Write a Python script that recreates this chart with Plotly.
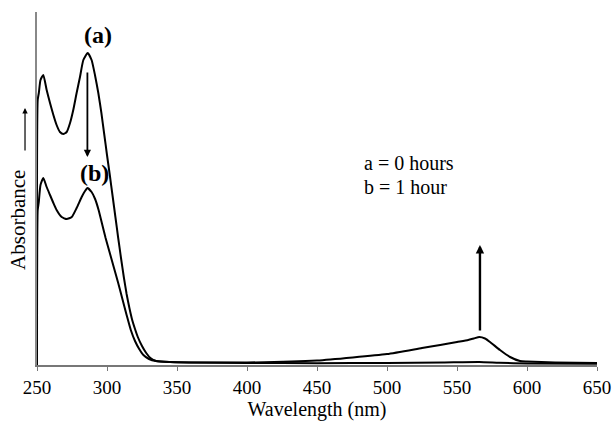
import plotly.graph_objects as go

# UV-Vis absorbance spectra, 250-650 nm
wl_a = [250.0, 250.5, 251.3, 252.5, 254.5, 256.9, 259.3, 261.7, 264.0, 266.4, 268.8,
        271.2, 273.6, 275.9, 278.3, 280.7, 283.1, 286.2, 289.0, 291.4, 293.8, 296.0,
        298.0, 300.0, 302.0, 304.0, 306.0, 308.0, 310.0, 312.0, 314.0, 316.0, 318.0,
        320.0, 322.0, 325.0, 328.0, 331.0, 335.0, 345, 360, 400,
        450, 500, 540, 566, 580, 600, 650]
abs_a = [0.0, 2.65, 2.72, 2.85, 2.90, 2.75, 2.62, 2.50, 2.40, 2.33, 2.31,
         2.33, 2.42, 2.55, 2.72, 2.88, 3.05, 3.12, 3.05, 2.90, 2.72, 2.52,
         2.31, 2.10, 1.90, 1.69, 1.48, 1.27, 1.07, 0.88, 0.71, 0.57, 0.45,
         0.36, 0.28, 0.19, 0.12, 0.07, 0.04, 0.03, 0.025, 0.02,
         0.018, 0.02, 0.025, 0.03, 0.022, 0.015, 0.012]

wl_b = [250.0, 250.5, 251.2, 252.5, 254.5, 256.9, 259.3, 261.7, 264.0, 267.6, 271.2,
        274.8, 278.3, 281.9, 284.3, 286.0, 289.0, 291.5, 294.0, 296.5, 299.0, 302.0,
        305.0, 308.0, 311.0, 314.0, 317.0, 320.0, 323.0, 326.0, 330.0, 335.0, 345, 366,
        400, 450, 500, 525, 538, 550, 558, 562, 566, 570, 573.6, 580.7, 587.9, 595,
        600, 620, 650]
abs_b = [0.0, 1.55, 1.62, 1.80, 1.87, 1.78, 1.70, 1.62, 1.55, 1.48, 1.46,
         1.48, 1.57, 1.68, 1.74, 1.77, 1.73, 1.66, 1.55, 1.41, 1.27, 1.12,
         0.97, 0.82, 0.66, 0.50, 0.35, 0.24, 0.16, 0.10, 0.06, 0.04, 0.03, 0.025,
         0.025, 0.045, 0.11, 0.17, 0.20, 0.23, 0.25, 0.265, 0.28, 0.265, 0.23, 0.15,
         0.08, 0.04, 0.035, 0.025, 0.02]

x_ticks = [250, 300, 350, 400, 450, 500, 550, 600, 650]

SERIF = "Liberation Serif, Times New Roman, serif"

fig = go.Figure()
for wl, ab in [(wl_a, abs_a), (wl_b, abs_b)]:
    fig.add_trace(go.Scatter(x=wl, y=ab, mode="lines",
                             line=dict(color="black", width=2, shape="spline", smoothing=0.5),
                             showlegend=False, hoverinfo="skip"))

fig.update_layout(
    width=616, height=421,
    margin=dict(l=37, r=19, t=12, b=56, autoexpand=False),
    paper_bgcolor="white", plot_bgcolor="white",
    font=dict(family=SERIF, color="black", size=19),
    xaxis=dict(range=[250, 650], tickvals=x_ticks, ticks="outside", ticklen=4,
               tickcolor="#777", showline=True, linecolor="#777", linewidth=1.5,
               showgrid=False, zeroline=False, tickfont=dict(size=19), automargin=False,
               title=dict(text="Wavelength (nm)", font=dict(size=20), standoff=9)),
    yaxis=dict(range=[0, 3.53], showticklabels=False, ticks="", showline=True,
               linecolor="#888", linewidth=1.5, showgrid=False, zeroline=False,
               automargin=False),
)

# peak labels
fig.add_annotation(x=293.6, y=3.30, text="<b>(a)</b>", showarrow=False,
                   font=dict(size=24, family=SERIF))
fig.add_annotation(x=291.4, y=1.92, text="<b>(b)</b>", showarrow=False,
                   font=dict(size=24, family=SERIF))

# decrease in UV band
fig.add_annotation(x=286, y=2.08, ax=286, ay=2.94, axref="x", ayref="y",
                   text="", showarrow=True, arrowhead=2, arrowsize=0.8,
                   arrowwidth=1.8, arrowcolor="black")
# growth of visible band
fig.add_annotation(x=566.4, y=1.20, ax=566.4, ay=0.33, axref="x", ayref="y",
                   text="", showarrow=True, arrowhead=2, arrowsize=0.7,
                   arrowwidth=2.4, arrowcolor="black")

# legend text
fig.add_annotation(x=0.580, y=0.572, xref="paper", yref="paper", xanchor="left",
                   text="a = 0 hours", showarrow=False, font=dict(size=20))
fig.add_annotation(x=0.580, y=0.504, xref="paper", yref="paper", xanchor="left",
                   text="b = 1 hour", showarrow=False, font=dict(size=20))

# y axis label with arrow
fig.add_annotation(x=-0.034, y=0.411, xref="paper", yref="paper", xanchor="center",
                   yanchor="middle", text="Absorbance", textangle=-90, showarrow=False,
                   font=dict(size=21))
fig.add_annotation(x=-0.0214, y=0.728, xref="paper", yref="paper",
                   axref="pixel", ayref="pixel", ax=0, ay=44, text="", showarrow=True,
                   arrowhead=2, arrowsize=0.9, arrowwidth=1.2, arrowcolor="black")

fig.write_html("out.html")
